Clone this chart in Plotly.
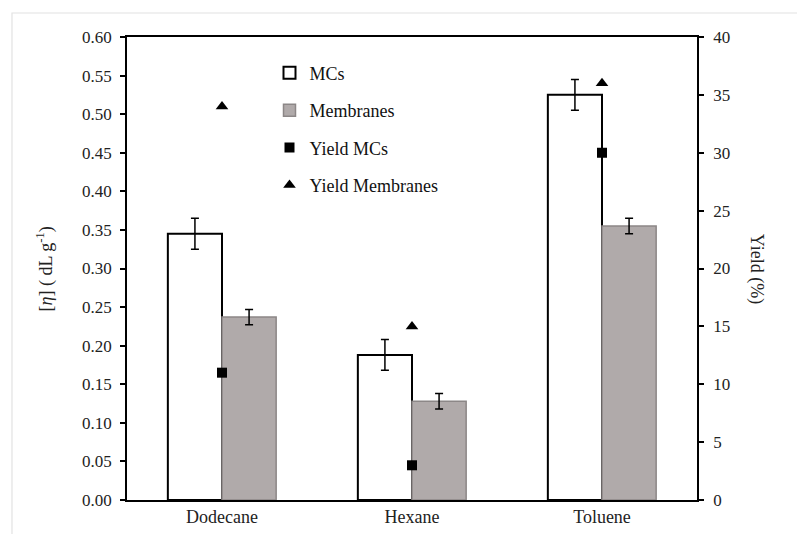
import plotly.graph_objects as go

# Solvent categories
solvents = ["Dodecane", "Hexane", "Toluene"]

# Intrinsic viscosity [η] (dL/g) with error bars
eta_mcs = [0.345, 0.188, 0.525]
eta_mcs_err = [0.02, 0.02, 0.02]
eta_membranes = [0.237, 0.128, 0.355]
eta_membranes_err = [0.01, 0.01, 0.01]

# Yield (%)
yield_mcs = [11, 3, 30]
yield_membranes = [34, 15, 36]

FONT = "Liberation Serif"

fig = go.Figure()

fig.add_trace(go.Bar(
    x=solvents, y=eta_mcs, name="MCs",
    marker=dict(color="white", line=dict(color="black", width=2)),
    error_y=dict(type="data", array=eta_mcs_err, color="black", thickness=1.5, width=4),
    legendgroup="a",
))
fig.add_trace(go.Bar(
    x=solvents, y=eta_membranes, name="Membranes",
    marker=dict(color="#b0aaaa", line=dict(color="#8c8787", width=1.5)),
    error_y=dict(type="data", array=eta_membranes_err, color="black", thickness=1.5, width=4),
    legendgroup="b",
))
fig.add_trace(go.Scatter(
    x=solvents, y=yield_mcs, name="Yield MCs", yaxis="y2", mode="markers",
    marker=dict(symbol="square", size=10, color="black"),
    legendgroup="c",
))
fig.add_trace(go.Scatter(
    x=solvents, y=yield_membranes, name="Yield Membranes", yaxis="y2", mode="markers",
    marker=dict(symbol="triangle-up", size=11, color="black"),
    legendgroup="d",
))

fig.update_layout(
    width=797, height=534,
    margin=dict(l=127, r=100, t=37, b=34),
    plot_bgcolor="white", paper_bgcolor="white",
    font=dict(family=FONT, size=17, color="#222"),
    barmode="group", bargap=0.43, bargroupgap=0,
    showlegend=True,
    legend=dict(
        x=0.25, y=0.962, xanchor="left", yanchor="top",
        bgcolor="rgba(0,0,0,0)", traceorder="grouped", tracegroupgap=11,
        font=dict(family=FONT, size=18, color="#111"),
    ),
    xaxis=dict(
        showline=True, linecolor="black", linewidth=1.5, mirror=True,
        ticks="", showgrid=False, tickfont=dict(size=18), automargin=False,
    ),
    yaxis=dict(
        range=[0, 0.6], dtick=0.05, tickformat=".2f",
        showline=True, linecolor="black", linewidth=1.5,
        ticks="outside", ticklen=5, tickwidth=1.5, tickcolor="black",
        ticklabelstandoff=5,
        showgrid=False, zeroline=False, tickfont=dict(size=17), automargin=False,
    ),
    yaxis2=dict(
        overlaying="y", side="right", range=[0, 40], dtick=5,
        showline=True, linecolor="black", linewidth=1.5,
        ticks="outside", ticklen=5, tickwidth=1.5, tickcolor="black",
        ticklabelstandoff=6,
        showgrid=False, zeroline=False, tickfont=dict(size=17), automargin=False,
    ),
    annotations=[
        dict(
            text="[<i>η</i>] ( dL g<sup>-1</sup>)", xref="paper", yref="paper",
            x=-0.144, y=0.5, xanchor="center", yanchor="middle",
            showarrow=False, textangle=-90, font=dict(size=18),
        ),
        dict(
            text="Yield (%)", xref="paper", yref="paper",
            x=1.105, y=0.5, xanchor="center", yanchor="middle",
            showarrow=False, textangle=90, font=dict(size=18),
        ),
    ],
    shapes=[dict(
        type="rect", xref="paper", yref="paper",
        x0=-0.2018, y0=-0.2, x1=1.3, y1=1.0518,
        line=dict(color="#e2e2e2", width=1.2), fillcolor="rgba(0,0,0,0)", layer="below",
    )],
)

fig.write_html("out.html")
